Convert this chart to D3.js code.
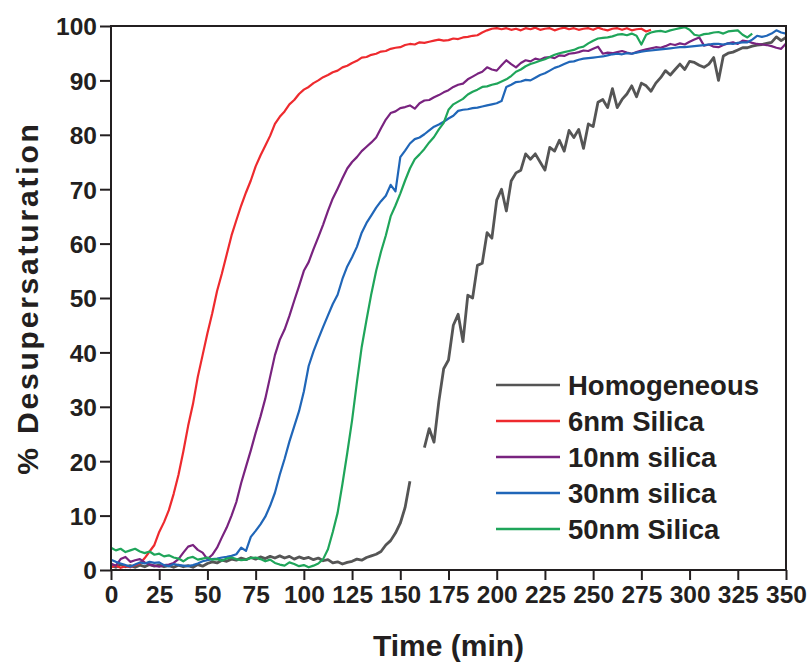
<!DOCTYPE html>
<html>
<head>
<meta charset="utf-8">
<script src="https://cdn.jsdelivr.net/npm/d3@7"></script>
<style>
  body { margin: 0; background: #fff; }
  text { font-family: Arial, "Liberation Sans", sans-serif; font-weight: bold; fill: #231f20; }
</style>
</head>
<body>
<div id="chart"></div>
<script>
// sampling times (min)
var times = [0,2.5,5,7.5,10,12.5,15,17.5,20,22.5,25,27.5,30,32.5,35,37.5,40,42.5,45,47.5,
  50,52.5,55,57.5,60,62.5,65,67.5,70,72.5,75,77.5,80,82.5,85,87.5,90,92.5,95,97.5,
  100,102.5,105,107.5,110,112.5,115,117.5,120,122.5,125,127.5,130,132.5,135,137.5,140,142.5,145,147.5,
  150,152.5,155,157.5,160,162.5,165,167.5,170,172.5,175,177.5,180,182.5,185,187.5,190,192.5,195,197.5,
  200,202.5,205,207.5,210,212.5,215,217.5,220,222.5,225,227.5,230,232.5,235,237.5,240,242.5,245,247.5,
  250,252.5,255,257.5,260,262.5,265,267.5,270,272.5,275,277.5,280,282.5,285,287.5,290,292.5,295,297.5,
  300,302.5,305,307.5,310,312.5,315,317.5,320,322.5,325,327.5,330,332.5,335,337.5,340,342.5,345,347.5,350];

var homogeneous = [0.8,0.5,1.0,0.6,0.8,0.5,0.9,0.6,1.0,0.7,0.9,0.6,0.8,0.5,0.9,0.6,0.8,0.5,1.0,0.7,
  1.2,1.5,1.3,1.8,1.6,2.0,1.8,2.2,1.9,2.3,2.0,2.4,2.1,2.5,2.2,2.6,2.2,2.5,2.0,2.4,
  2.1,2.3,1.9,2.2,1.7,1.9,1.3,1.5,1.1,1.4,1.6,2.0,1.8,2.3,2.6,2.9,3.4,4.6,5.4,6.8,
  8.6,11.5,16.3,null,null,22.5,26,23.5,31,37,38.6,45,47,42,50.5,50,56,56.4,62,61,
  68,70,66,71.5,73,73.5,76.5,75.5,76.5,75,73.5,77.7,77,79,77,80.8,79.5,81,77.5,82,
  81.5,86,86.5,85,88.5,85,86.5,87.5,89,87,89.5,89,88,89.5,90.5,91.8,91,92,93,92,
  93.5,93.3,92.8,92.4,93,94.2,90,94.5,95,95.2,95.6,96,96,96.3,96.5,96.6,96.8,97,98,97.3,97.9];

var silica6 = [0.5,0.8,0.4,0.7,0.5,0.9,1.2,2.2,3.4,4.6,7.0,8.8,11.0,14.0,17.5,21.8,26.5,30.5,35.5,39.5,
  43.5,47.2,51.3,54.5,58,61.5,64.3,67,69.4,71.6,74.2,76.2,78,79.8,82,83.3,84.3,85.6,86.4,87.5,
  88.3,88.8,89.5,90.0,90.6,91.0,91.5,91.8,92.4,92.7,93.2,93.6,94.2,94.3,94.7,94.9,95.3,95.4,95.8,96.0,
  96.1,96.5,96.7,96.6,97.0,96.9,97.1,97.3,97.5,97.3,97.4,97.7,97.6,97.9,98.0,98.2,98.3,98.8,99.2,99.5,
  99.6,99.4,99.6,99.3,99.5,99.2,99.6,99.4,99.7,99.3,99.5,99.6,99.2,99.5,99.7,99.4,99.6,99.3,99.5,99.6,
  99.3,99.7,99.4,99.2,99.5,99.6,99.3,99.6,99.2,99.4,99.5,99.0,99.3,
  null,null,null,null,null,null,null,null,null,null,null,null,null,null,
  null,null,null,null,null,null,null,null,null,null,null,null,null,null];

var silica10 = [1.2,0.8,2.0,2.4,1.5,1.8,2.0,1.4,1.0,0.8,0.6,0.9,1.0,1.3,2.0,3.2,4.3,4.6,3.7,3.2,
  2.0,2.8,4.1,6.0,7.8,10.0,12.5,16.0,19.0,22.0,25.2,28.2,31.5,35.5,39.5,42.3,44.2,46.7,49.5,52.2,
  55.0,56.6,59.0,61.2,63.5,66.0,68.3,70.1,72.0,73.8,75.0,75.9,77.0,77.8,78.6,79.5,81.2,82.8,84.0,84.3,
  84.9,85.1,85.4,84.8,85.8,86.3,86.4,86.9,87.3,87.8,88.2,88.8,89.2,89.4,90.2,90.7,91.2,91.6,92.4,92.0,
  91.8,92.8,93.7,93.0,92.4,93.2,93.7,93.5,94.0,93.8,94.2,94.3,94.1,94.6,94.5,94.9,95.0,95.2,95.5,95.4,
  95.8,96.2,94.9,95.1,95.0,95.2,95.4,95.1,94.9,95.2,95.5,95.7,95.9,96.1,96.0,96.3,96.7,96.5,96.8,96.6,
  97.1,97.5,97.9,96.4,96.6,96.2,96.1,96.5,96.8,97.0,96.7,97.3,97.2,96.9,96.7,96.6,96.5,96.3,96.0,95.8,96.8];

var silica30 = [1.9,1.5,1.2,0.9,0.6,1.0,1.4,1.2,1.5,1.3,1.4,0.9,0.7,1.1,0.9,0.8,0.7,0.9,1.2,1.6,
  1.8,2.0,2.1,2.3,2.4,2.6,2.9,4.1,3.5,6.1,7.2,8.4,9.8,11.8,14.2,17.5,20.4,23.6,26.4,29.2,
  32.8,37.5,40.2,42.5,44.7,46.8,48.9,50.6,53.5,55.8,57.5,59.4,62.0,63.8,65.2,66.6,67.8,68.8,70.8,69.6,
  75.9,77.1,78.4,79.2,79.5,80.1,80.8,81.5,81.9,82.4,83.0,83.5,84.4,84.6,84.7,84.9,85.0,85.2,85.4,85.6,
  85.8,86.2,88.8,89.2,89.7,89.8,90.1,90.0,90.5,91.0,91.3,91.8,92.3,92.6,93.0,93.4,93.5,93.8,94.0,94.1,
  94.2,94.3,94.4,94.6,94.8,94.9,94.8,95.0,94.9,95.1,95.3,95.4,95.5,95.6,95.7,95.8,95.9,96.0,96.1,96.1,
  96.2,96.3,96.4,96.5,96.6,96.7,96.7,96.6,96.8,96.7,96.9,97.0,97.0,97.5,98.2,98.0,98.2,98.6,99.2,98.8,98.6];

var silica50 = [4.1,3.6,3.9,3.3,3.6,3.9,3.4,3.1,3.4,2.8,3.0,2.5,2.7,2.3,2.1,1.6,2.2,2.4,1.9,2.1,
  2.3,1.9,2.0,1.7,2.1,2.3,2.0,1.8,1.9,2.2,2.3,2.0,1.6,1.9,1.3,1.0,0.8,1.4,1.1,0.7,
  0.9,0.5,0.8,1.2,2.0,3.8,7.0,10.5,15.8,21.5,27.5,34.5,41.0,46.0,50.8,55.0,58.5,61.5,65.0,67.0,
  69.2,71.6,73.8,75.5,76.4,77.4,78.6,79.6,81.0,82.2,84.6,85.6,86.1,86.6,87.4,87.9,88.3,88.8,88.9,89.2,
  89.4,89.8,90.2,90.8,91.6,92.0,92.6,93.0,93.3,93.6,93.9,94.3,94.7,95.0,95.2,95.4,95.6,96.0,96.2,96.8,
  97.3,97.7,97.8,97.9,98.1,98.4,98.5,98.3,98.6,98.2,96.6,98.4,98.8,99.0,99.1,98.9,99.2,99.4,99.6,99.8,
  99.3,98.4,98.2,98.5,98.6,98.8,98.9,98.6,99.0,99.1,99.2,98.4,97.9,98.6,
  null,null,null,null,null,null,null];

var seriesNames = ["Homogeneous", "6nm Silica", "10nm silica", "30nm silica", "50nm Silica"];
var seriesValues = [homogeneous, silica6, silica10, silica30, silica50];
var seriesColors = ["#555555", "#ee2a2e", "#79237f", "#2066b8", "#1fa55a"];
var xTicks = [0,25,50,75,100,125,150,175,200,225,250,275,300,325,350];
var yTicks = [0,10,20,30,40,50,60,70,80,90,100];

var margin = {top: 26, right: 22, bottom: 92, left: 111},
    width = 808 - margin.left - margin.right,
    height = 662 - margin.top - margin.bottom;

var svg = d3.select("#chart").append("svg")
    .attr("width", 808)
    .attr("height", 662)
  .append("g")
    .attr("transform", "translate(" + margin.left + "," + margin.top + ")");

var x = d3.scaleLinear().domain([0, 350]).range([0, width]);
var y = d3.scaleLinear().domain([0, 100]).range([height, 0]);

var line = d3.line()
    .defined(function(d) { return d[1] != null; })
    .x(function(d) { return x(d[0]); })
    .y(function(d) { return y(d[1]); });

seriesValues.forEach(function(vals, i) {
    var pts = times.map(function(t, j) { return [t, vals[j]]; });
    svg.append("path")
        .datum(pts)
        .attr("fill", "none")
        .attr("stroke", seriesColors[i])
        .attr("stroke-width", i == 0 ? 2.8 : 2.2)
        .attr("stroke-linejoin", "round")
        .attr("d", line);
});

// frame
svg.append("rect")
    .attr("width", width)
    .attr("height", height)
    .attr("fill", "none")
    .attr("stroke", "#231f20")
    .attr("stroke-width", 2);

var xAxis = svg.append("g")
    .attr("transform", "translate(0," + height + ")")
    .call(d3.axisBottom(x).tickValues(xTicks).tickSize(10).tickSizeOuter(0).tickPadding(6));
var yAxis = svg.append("g")
    .call(d3.axisLeft(y).tickValues(yTicks).tickSize(11).tickSizeOuter(0).tickPadding(3));

[xAxis, yAxis].forEach(function(a) {
    a.select(".domain").remove();
    a.selectAll("line").attr("stroke", "#231f20").attr("stroke-width", 2);
    a.selectAll("text").style("font-size", "24.5px").style("font-family", "Arial, 'Liberation Sans', sans-serif")
        .style("font-weight", "bold").attr("fill", "#231f20");
});
yAxis.selectAll("text").attr("dy", "0.36em");

svg.append("text")
    .attr("x", width / 2)
    .attr("y", height + 86)
    .attr("text-anchor", "middle")
    .style("font-size", "30px")
    .text("Time (min)");

svg.append("text")
    .attr("transform", "translate(" + (-73) + "," + (height / 2) + ") rotate(-90)")
    .attr("text-anchor", "middle")
    .style("font-size", "30px")
    .style("letter-spacing", "2.8px")
    .text("% Desupersaturation");

// legend
var legend = svg.append("g").attr("transform", "translate(385,359)");
seriesNames.forEach(function(name, i) {
    var row = legend.append("g").attr("transform", "translate(0," + (i * 36) + ")");
    row.append("line")
        .attr("x1", 0).attr("x2", 64)
        .attr("stroke", seriesColors[i])
        .attr("stroke-width", 2.5);
    row.append("text")
        .attr("x", 72)
        .attr("dy", "0.36em")
        .style("font-size", "27.5px")
        .text(name);
});
</script>
</body>
</html>
